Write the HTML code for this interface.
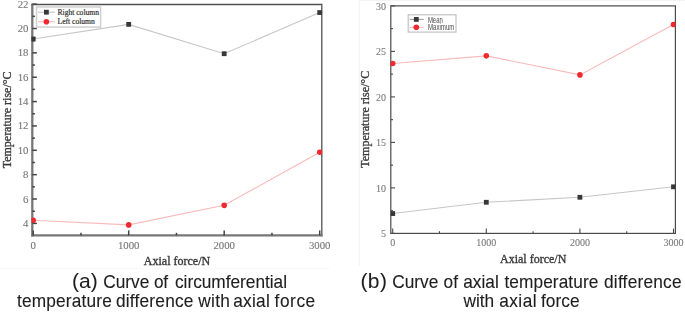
<!DOCTYPE html>
<html><head><meta charset="utf-8"><title>Temperature rise vs axial force</title>
<style>
html,body{margin:0;padding:0;background:#fff;}
body{width:685px;height:312px;overflow:hidden;position:relative;font-family:"Liberation Sans",sans-serif;}
svg{position:absolute;left:0;top:0;display:block;filter:blur(0.45px);}
</style></head>
<body>
<svg width="685" height="312" viewBox="0 0 685 312">
<defs>
<clipPath id="cl"><rect x="31.4" y="4.6" width="291" height="230.8"/></clipPath>
<clipPath id="cr"><rect x="390.6" y="5.9" width="285" height="227.5"/></clipPath>
</defs>
<line x1="359.3" y1="0" x2="359.3" y2="266" stroke="#f3f3f3" stroke-width="1"/>
<line x1="359.3" y1="0.5" x2="685" y2="0.5" stroke="#f3f3f3" stroke-width="1"/>
<line x1="0" y1="268.3" x2="330" y2="268.3" stroke="#f8f8f8" stroke-width="1"/>
<g clip-path="url(#cl)">
<polyline points="33.20,38.97 128.70,24.36 224.20,53.71 319.70,12.54" fill="none" stroke="#c6c6c6" stroke-width="1.1"/>
<polyline points="33.20,220.21 128.70,224.90 224.20,205.35 319.70,152.25" fill="none" stroke="#f9baba" stroke-width="1.1"/>
</g>
<line x1="31.15" y1="4.5" x2="321.8" y2="4.5" stroke="#505050" stroke-width="1.3"/>
<line x1="321.8" y1="3.85" x2="321.8" y2="236.55" stroke="#505050" stroke-width="1.3"/>
<line x1="32.3" y1="3.85" x2="32.3" y2="236.55" stroke="#777777" stroke-width="2.3"/>
<line x1="31.15" y1="235.4" x2="322.45" y2="235.4" stroke="#777777" stroke-width="2.3"/>
<line x1="32.3" y1="223.38" x2="36.9" y2="223.38" stroke="#444444" stroke-width="1.5"/>
<line x1="32.3" y1="211.20" x2="34.9" y2="211.20" stroke="#444444" stroke-width="1.5"/>
<line x1="32.3" y1="199.02" x2="36.9" y2="199.02" stroke="#444444" stroke-width="1.5"/>
<line x1="32.3" y1="186.84" x2="34.9" y2="186.84" stroke="#444444" stroke-width="1.5"/>
<line x1="32.3" y1="174.66" x2="36.9" y2="174.66" stroke="#444444" stroke-width="1.5"/>
<line x1="32.3" y1="162.48" x2="34.9" y2="162.48" stroke="#444444" stroke-width="1.5"/>
<line x1="32.3" y1="150.30" x2="36.9" y2="150.30" stroke="#444444" stroke-width="1.5"/>
<line x1="32.3" y1="138.12" x2="34.9" y2="138.12" stroke="#444444" stroke-width="1.5"/>
<line x1="32.3" y1="125.94" x2="36.9" y2="125.94" stroke="#444444" stroke-width="1.5"/>
<line x1="32.3" y1="113.76" x2="34.9" y2="113.76" stroke="#444444" stroke-width="1.5"/>
<line x1="32.3" y1="101.58" x2="36.9" y2="101.58" stroke="#444444" stroke-width="1.5"/>
<line x1="32.3" y1="89.40" x2="34.9" y2="89.40" stroke="#444444" stroke-width="1.5"/>
<line x1="32.3" y1="77.22" x2="36.9" y2="77.22" stroke="#444444" stroke-width="1.5"/>
<line x1="32.3" y1="65.04" x2="34.9" y2="65.04" stroke="#444444" stroke-width="1.5"/>
<line x1="32.3" y1="52.86" x2="36.9" y2="52.86" stroke="#444444" stroke-width="1.5"/>
<line x1="32.3" y1="40.68" x2="34.9" y2="40.68" stroke="#444444" stroke-width="1.5"/>
<line x1="32.3" y1="28.50" x2="36.9" y2="28.50" stroke="#444444" stroke-width="1.5"/>
<line x1="32.3" y1="16.32" x2="34.9" y2="16.32" stroke="#444444" stroke-width="1.5"/>
<line x1="32.3" y1="4.14" x2="36.9" y2="4.14" stroke="#444444" stroke-width="1.5"/>
<line x1="33.20" y1="235.4" x2="33.20" y2="230.4" stroke="#444444" stroke-width="1.5"/>
<line x1="80.95" y1="235.4" x2="80.95" y2="232.8" stroke="#444444" stroke-width="1.5"/>
<line x1="128.70" y1="235.4" x2="128.70" y2="230.4" stroke="#444444" stroke-width="1.5"/>
<line x1="176.45" y1="235.4" x2="176.45" y2="232.8" stroke="#444444" stroke-width="1.5"/>
<line x1="224.20" y1="235.4" x2="224.20" y2="230.4" stroke="#444444" stroke-width="1.5"/>
<line x1="271.95" y1="235.4" x2="271.95" y2="232.8" stroke="#444444" stroke-width="1.5"/>
<line x1="319.70" y1="235.4" x2="319.70" y2="230.4" stroke="#444444" stroke-width="1.5"/>
<g clip-path="url(#cl)">
<rect x="30.80" y="36.57" width="4.8" height="4.8" fill="#383838"/>
<rect x="126.30" y="21.96" width="4.8" height="4.8" fill="#383838"/>
<rect x="221.80" y="51.31" width="4.8" height="4.8" fill="#383838"/>
<rect x="317.30" y="10.14" width="4.8" height="4.8" fill="#383838"/>
<circle cx="33.20" cy="220.21" r="2.8" fill="#ee2a30"/>
<circle cx="128.70" cy="224.90" r="2.8" fill="#ee2a30"/>
<circle cx="224.20" cy="205.35" r="2.8" fill="#ee2a30"/>
<circle cx="319.70" cy="152.25" r="2.8" fill="#ee2a30"/>
</g>
<text x="28.5" y="226.88" text-anchor="end" font-family="'Liberation Serif', serif" font-size="10.8" fill="#767676" stroke="#767676" stroke-width="0.1">4</text>
<text x="28.5" y="202.52" text-anchor="end" font-family="'Liberation Serif', serif" font-size="10.8" fill="#767676" stroke="#767676" stroke-width="0.1">6</text>
<text x="28.5" y="178.16" text-anchor="end" font-family="'Liberation Serif', serif" font-size="10.8" fill="#767676" stroke="#767676" stroke-width="0.1">8</text>
<text x="28.5" y="153.80" text-anchor="end" font-family="'Liberation Serif', serif" font-size="10.8" fill="#767676" stroke="#767676" stroke-width="0.1">10</text>
<text x="28.5" y="129.44" text-anchor="end" font-family="'Liberation Serif', serif" font-size="10.8" fill="#767676" stroke="#767676" stroke-width="0.1">12</text>
<text x="28.5" y="105.08" text-anchor="end" font-family="'Liberation Serif', serif" font-size="10.8" fill="#767676" stroke="#767676" stroke-width="0.1">14</text>
<text x="28.5" y="80.72" text-anchor="end" font-family="'Liberation Serif', serif" font-size="10.8" fill="#767676" stroke="#767676" stroke-width="0.1">16</text>
<text x="28.5" y="56.36" text-anchor="end" font-family="'Liberation Serif', serif" font-size="10.8" fill="#767676" stroke="#767676" stroke-width="0.1">18</text>
<text x="28.5" y="32.00" text-anchor="end" font-family="'Liberation Serif', serif" font-size="10.8" fill="#767676" stroke="#767676" stroke-width="0.1">20</text>
<text x="28.5" y="7.64" text-anchor="end" font-family="'Liberation Serif', serif" font-size="10.8" fill="#767676" stroke="#767676" stroke-width="0.1">22</text>
<text x="33.20" y="248.9" text-anchor="middle" font-family="'Liberation Serif', serif" font-size="10.8" fill="#767676" stroke="#767676" stroke-width="0.1">0</text>
<text x="128.70" y="248.9" text-anchor="middle" font-family="'Liberation Serif', serif" font-size="10.8" fill="#767676" stroke="#767676" stroke-width="0.1">1000</text>
<text x="224.20" y="248.9" text-anchor="middle" font-family="'Liberation Serif', serif" font-size="10.8" fill="#767676" stroke="#767676" stroke-width="0.1">2000</text>
<text x="319.70" y="248.9" text-anchor="middle" font-family="'Liberation Serif', serif" font-size="10.8" fill="#767676" stroke="#767676" stroke-width="0.1">3000</text>
<text x="177" y="265.2" text-anchor="middle" font-family="'Liberation Serif', serif" font-size="12" fill="#3a3a3a" stroke="#3a3a3a" stroke-width="0.35">Axial force/N</text>
<text transform="translate(10.9,119.9) rotate(-90)" text-anchor="middle" font-family="'Liberation Serif', serif" font-size="12" fill="#3a3a3a" stroke="#3a3a3a" stroke-width="0.35">Temperature rise/°C</text>
<rect x="36.5" y="7.0" width="64.1" height="20.1" fill="#fff" stroke="#d0d0d0" stroke-width="1.5"/>
<line x1="38" y1="12.2" x2="55" y2="12.2" stroke="#c6c6c6" stroke-width="1.1"/>
<rect x="44.00" y="9.80" width="4.8" height="4.8" fill="#383838"/>
<text x="57.5" y="14.7" font-family="'Liberation Serif', serif" font-size="7.6" fill="#333" stroke="#333" stroke-width="0.2" textLength="41.5" lengthAdjust="spacingAndGlyphs">Right column</text>
<line x1="38" y1="21.8" x2="55" y2="21.8" stroke="#f9baba" stroke-width="1.1"/>
<circle cx="46.4" cy="21.8" r="2.8" fill="#ee2a30"/>
<text x="57.5" y="24.3" font-family="'Liberation Serif', serif" font-size="7.6" fill="#333" stroke="#333" stroke-width="0.2" textLength="37.3" lengthAdjust="spacingAndGlyphs">Left column</text>
<g clip-path="url(#cr)">
<polyline points="392.70,213.56 486.30,202.28 579.90,197.27 673.50,186.81" fill="none" stroke="#c6c6c6" stroke-width="1.1"/>
<polyline points="392.70,63.50 486.30,55.86 579.90,74.88 673.50,24.46" fill="none" stroke="#f9baba" stroke-width="1.1"/>
</g>
<rect x="390.8" y="5.9" width="284.59999999999997" height="227.5" fill="none" stroke="#4a4a4a" stroke-width="1.2"/>
<line x1="390.8" y1="233.40" x2="395.0" y2="233.40" stroke="#4a4a4a" stroke-width="1.1"/>
<line x1="390.8" y1="210.65" x2="393.0" y2="210.65" stroke="#4a4a4a" stroke-width="1.1"/>
<line x1="390.8" y1="187.90" x2="395.0" y2="187.90" stroke="#4a4a4a" stroke-width="1.1"/>
<line x1="390.8" y1="165.15" x2="393.0" y2="165.15" stroke="#4a4a4a" stroke-width="1.1"/>
<line x1="390.8" y1="142.40" x2="395.0" y2="142.40" stroke="#4a4a4a" stroke-width="1.1"/>
<line x1="390.8" y1="119.65" x2="393.0" y2="119.65" stroke="#4a4a4a" stroke-width="1.1"/>
<line x1="390.8" y1="96.90" x2="395.0" y2="96.90" stroke="#4a4a4a" stroke-width="1.1"/>
<line x1="390.8" y1="74.15" x2="393.0" y2="74.15" stroke="#4a4a4a" stroke-width="1.1"/>
<line x1="390.8" y1="51.40" x2="395.0" y2="51.40" stroke="#4a4a4a" stroke-width="1.1"/>
<line x1="390.8" y1="28.65" x2="393.0" y2="28.65" stroke="#4a4a4a" stroke-width="1.1"/>
<line x1="390.8" y1="5.90" x2="395.0" y2="5.90" stroke="#4a4a4a" stroke-width="1.1"/>
<line x1="392.70" y1="233.4" x2="392.70" y2="228.6" stroke="#4a4a4a" stroke-width="1.1"/>
<line x1="439.50" y1="233.4" x2="439.50" y2="231.20000000000002" stroke="#4a4a4a" stroke-width="1.1"/>
<line x1="486.30" y1="233.4" x2="486.30" y2="228.6" stroke="#4a4a4a" stroke-width="1.1"/>
<line x1="533.10" y1="233.4" x2="533.10" y2="231.20000000000002" stroke="#4a4a4a" stroke-width="1.1"/>
<line x1="579.90" y1="233.4" x2="579.90" y2="228.6" stroke="#4a4a4a" stroke-width="1.1"/>
<line x1="626.70" y1="233.4" x2="626.70" y2="231.20000000000002" stroke="#4a4a4a" stroke-width="1.1"/>
<line x1="673.50" y1="233.4" x2="673.50" y2="228.6" stroke="#4a4a4a" stroke-width="1.1"/>
<g clip-path="url(#cr)">
<rect x="390.30" y="211.16" width="4.8" height="4.8" fill="#383838"/>
<rect x="483.90" y="199.88" width="4.8" height="4.8" fill="#383838"/>
<rect x="577.50" y="194.87" width="4.8" height="4.8" fill="#383838"/>
<rect x="671.10" y="184.41" width="4.8" height="4.8" fill="#383838"/>
<circle cx="392.70" cy="63.50" r="2.8" fill="#ee2a30"/>
<circle cx="486.30" cy="55.86" r="2.8" fill="#ee2a30"/>
<circle cx="579.90" cy="74.88" r="2.8" fill="#ee2a30"/>
<circle cx="673.50" cy="24.46" r="2.8" fill="#ee2a30"/>
</g>
<text x="386" y="237.30" text-anchor="end" font-family="'Liberation Serif', serif" font-size="10" fill="#7a7a7a" stroke="#7a7a7a" stroke-width="0.1">5</text>
<text x="386" y="191.80" text-anchor="end" font-family="'Liberation Serif', serif" font-size="10" fill="#7a7a7a" stroke="#7a7a7a" stroke-width="0.1">10</text>
<text x="386" y="146.30" text-anchor="end" font-family="'Liberation Serif', serif" font-size="10" fill="#7a7a7a" stroke="#7a7a7a" stroke-width="0.1">15</text>
<text x="386" y="100.80" text-anchor="end" font-family="'Liberation Serif', serif" font-size="10" fill="#7a7a7a" stroke="#7a7a7a" stroke-width="0.1">20</text>
<text x="386" y="55.30" text-anchor="end" font-family="'Liberation Serif', serif" font-size="10" fill="#7a7a7a" stroke="#7a7a7a" stroke-width="0.1">25</text>
<text x="386" y="9.80" text-anchor="end" font-family="'Liberation Serif', serif" font-size="10" fill="#7a7a7a" stroke="#7a7a7a" stroke-width="0.1">30</text>
<text x="392.70" y="246.4" text-anchor="middle" font-family="'Liberation Serif', serif" font-size="10" fill="#7a7a7a" stroke="#7a7a7a" stroke-width="0.1">0</text>
<text x="486.30" y="246.4" text-anchor="middle" font-family="'Liberation Serif', serif" font-size="10" fill="#7a7a7a" stroke="#7a7a7a" stroke-width="0.1">1000</text>
<text x="579.90" y="246.4" text-anchor="middle" font-family="'Liberation Serif', serif" font-size="10" fill="#7a7a7a" stroke="#7a7a7a" stroke-width="0.1">2000</text>
<text x="673.50" y="246.4" text-anchor="middle" font-family="'Liberation Serif', serif" font-size="10" fill="#7a7a7a" stroke="#7a7a7a" stroke-width="0.1">3000</text>
<text x="533.2" y="262.6" text-anchor="middle" font-family="'Liberation Serif', serif" font-size="12" fill="#3a3a3a" stroke="#3a3a3a" stroke-width="0.35">Axial force/N</text>
<text transform="translate(369.2,119.3) rotate(-90)" text-anchor="middle" font-family="'Liberation Serif', serif" font-size="12" fill="#3a3a3a" stroke="#3a3a3a" stroke-width="0.35">Temperature rise/°C</text>
<rect x="408.2" y="14.8" width="47.8" height="17.3" fill="#fff" stroke="#bdbdbd" stroke-width="1.1"/>
<line x1="409.5" y1="19.4" x2="423.7" y2="19.4" stroke="#9a9a9a" stroke-width="1"/>
<rect x="413.90" y="17.00" width="4.8" height="4.8" fill="#383838"/>
<text x="427.9" y="22.5" font-family="'Liberation Sans', sans-serif" font-size="8.4" fill="#4a4a4a" textLength="14.9" lengthAdjust="spacingAndGlyphs">Mean</text>
<line x1="409.5" y1="27.3" x2="423.7" y2="27.3" stroke="#f9baba" stroke-width="1"/>
<circle cx="416.3" cy="27.3" r="2.8" fill="#ee2a30"/>
<text x="427.9" y="30.0" font-family="'Liberation Sans', sans-serif" font-size="8.4" fill="#4a4a4a" textLength="26.5" lengthAdjust="spacingAndGlyphs">Maximum</text>
<text transform="translate(72.00,287.7) scale(1.0,1)" x="0" y="0" font-family="'Liberation Sans', sans-serif" font-size="21" fill="#1e1e1e" stroke="#1e1e1e" stroke-width="0.05" textLength="25.80" lengthAdjust="spacing">(a)</text>
<text transform="translate(103.20,287.7) scale(0.95,1)" x="0" y="0" font-family="'Liberation Sans', sans-serif" font-size="18.2" fill="#1e1e1e" stroke="#1e1e1e" stroke-width="0.12" textLength="48.63" lengthAdjust="spacing">Curve</text>
<text transform="translate(154.00,287.7) scale(0.95,1)" x="0" y="0" font-family="'Liberation Sans', sans-serif" font-size="18.2" fill="#1e1e1e" stroke="#1e1e1e" stroke-width="0.12" textLength="14.74" lengthAdjust="spacing">of</text>
<text transform="translate(175.00,287.7) scale(0.95,1)" x="0" y="0" font-family="'Liberation Sans', sans-serif" font-size="18.2" fill="#1e1e1e" stroke="#1e1e1e" stroke-width="0.12" textLength="117.89" lengthAdjust="spacing">circumferential</text>
<text transform="translate(17.00,307.4) scale(0.95,1)" x="0" y="0" font-family="'Liberation Sans', sans-serif" font-size="18.2" fill="#1e1e1e" stroke="#1e1e1e" stroke-width="0.12" textLength="99.79" lengthAdjust="spacing">temperature</text>
<text transform="translate(116.00,307.4) scale(0.95,1)" x="0" y="0" font-family="'Liberation Sans', sans-serif" font-size="18.2" fill="#1e1e1e" stroke="#1e1e1e" stroke-width="0.12" textLength="81.47" lengthAdjust="spacing">difference</text>
<text transform="translate(198.20,307.4) scale(0.95,1)" x="0" y="0" font-family="'Liberation Sans', sans-serif" font-size="18.2" fill="#1e1e1e" stroke="#1e1e1e" stroke-width="0.12" textLength="33.47" lengthAdjust="spacing">with</text>
<text transform="translate(233.20,307.4) scale(0.95,1)" x="0" y="0" font-family="'Liberation Sans', sans-serif" font-size="18.2" fill="#1e1e1e" stroke="#1e1e1e" stroke-width="0.12" textLength="38.53" lengthAdjust="spacing">axial</text>
<text transform="translate(274.60,307.4) scale(0.95,1)" x="0" y="0" font-family="'Liberation Sans', sans-serif" font-size="18.2" fill="#1e1e1e" stroke="#1e1e1e" stroke-width="0.12" textLength="42.74" lengthAdjust="spacing">force</text>
<text transform="translate(360.40,287.7) scale(1.0,1)" x="0" y="0" font-family="'Liberation Sans', sans-serif" font-size="21" fill="#1e1e1e" stroke="#1e1e1e" stroke-width="0.05" textLength="26.60" lengthAdjust="spacing">(b)</text>
<text transform="translate(392.20,287.7) scale(0.95,1)" x="0" y="0" font-family="'Liberation Sans', sans-serif" font-size="18.2" fill="#1e1e1e" stroke="#1e1e1e" stroke-width="0.12" textLength="48.63" lengthAdjust="spacing">Curve</text>
<text transform="translate(443.40,287.7) scale(0.95,1)" x="0" y="0" font-family="'Liberation Sans', sans-serif" font-size="18.2" fill="#1e1e1e" stroke="#1e1e1e" stroke-width="0.12" textLength="15.37" lengthAdjust="spacing">of</text>
<text transform="translate(463.20,287.7) scale(0.95,1)" x="0" y="0" font-family="'Liberation Sans', sans-serif" font-size="18.2" fill="#1e1e1e" stroke="#1e1e1e" stroke-width="0.12" textLength="37.47" lengthAdjust="spacing">axial</text>
<text transform="translate(504.40,287.7) scale(0.95,1)" x="0" y="0" font-family="'Liberation Sans', sans-serif" font-size="18.2" fill="#1e1e1e" stroke="#1e1e1e" stroke-width="0.12" textLength="98.95" lengthAdjust="spacing">temperature</text>
<text transform="translate(604.00,287.7) scale(0.95,1)" x="0" y="0" font-family="'Liberation Sans', sans-serif" font-size="18.2" fill="#1e1e1e" stroke="#1e1e1e" stroke-width="0.12" textLength="81.68" lengthAdjust="spacing">difference</text>
<text transform="translate(463.40,307.4) scale(0.95,1)" x="0" y="0" font-family="'Liberation Sans', sans-serif" font-size="18.2" fill="#1e1e1e" stroke="#1e1e1e" stroke-width="0.12" textLength="32.42" lengthAdjust="spacing">with</text>
<text transform="translate(499.20,307.4) scale(0.95,1)" x="0" y="0" font-family="'Liberation Sans', sans-serif" font-size="18.2" fill="#1e1e1e" stroke="#1e1e1e" stroke-width="0.12" textLength="39.37" lengthAdjust="spacing">axial</text>
<text transform="translate(541.00,307.4) scale(0.95,1)" x="0" y="0" font-family="'Liberation Sans', sans-serif" font-size="18.2" fill="#1e1e1e" stroke="#1e1e1e" stroke-width="0.12" textLength="40.63" lengthAdjust="spacing">force</text>
</svg>
</body></html>
